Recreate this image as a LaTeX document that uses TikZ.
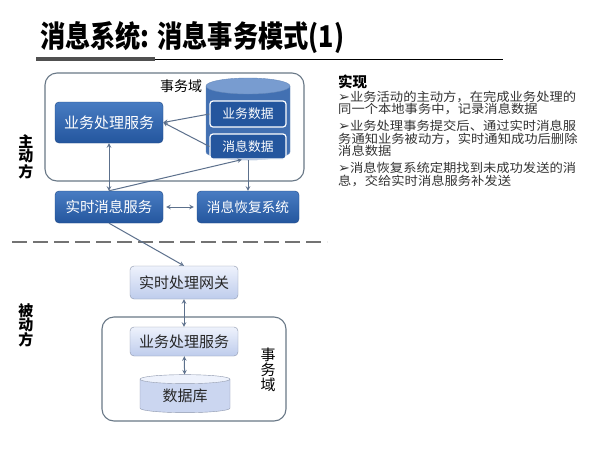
\documentclass[tikz,border=0pt]{standalone}
\usepackage{fontspec}
\setmainfont{Noto Sans CJK SC}
\newfontfamily\symfont{DejaVu Sans}
\usetikzlibrary{shapes.geometric}

\definecolor{boxblue}{RGB}{36,86,158}
\definecolor{boxtop}{RGB}{72,124,194}
\definecolor{dbbody}{RGB}{66,112,178}
\definecolor{dbend}{RGB}{120,156,208}
\definecolor{arrowgray}{RGB}{92,112,140}
\definecolor{framegray}{RGB}{105,120,135}
\definecolor{lightbot}{RGB}{190,204,236}
\definecolor{lighttop}{RGB}{238,242,252}
\definecolor{lightedge}{RGB}{140,150,172}
\definecolor{bargray}{RGB}{80,80,80}

\tikzset{
  svc/.style={draw=boxblue!85!black, rounded corners=4pt, top color=boxtop, bottom color=boxblue,
    text=white, inner sep=0pt, minimum width=108pt, minimum height=32pt, font=\fontsize{14.5}{14.5}\selectfont},
  inbox/.style={draw=white, line width=1.2pt, rounded corners=3pt, fill=boxblue, text=white,
    inner sep=0pt, minimum width=76pt, minimum height=25pt, font=\fontsize{12.8}{12.8}\selectfont},
  light/.style={draw=lightedge, rounded corners=4pt, top color=lighttop, bottom color=lightbot,
    text=black!85, inner sep=0pt, minimum width=108pt, minimum height=31pt, font=\fontsize{15}{15}\selectfont},
  dblow/.style={cylinder, shape border rotate=90, aspect=0.2, draw=lightedge, cylinder uses custom fill,
    cylinder body fill=lightbot!80!white, cylinder end fill=lighttop, inner sep=0pt,
    text=black!85, font=\fontsize{15}{15}\selectfont},
  domainbox/.style={draw=framegray, line width=1.1pt, rounded corners=12pt},
  arr/.style={draw=arrowgray, line width=1pt, >=stealth},
  side/.style={align=center, inner sep=0pt},
}
\newcommand{\bul}{{\symfont\fontsize{13}{12}\selectfont ➢}}

\begin{document}
\begin{tikzpicture}[x=1pt, y=-1pt]

  \useasboundingbox[fill=white] (0,0) rectangle (598,448);

  % 标题
  \node[anchor=base west, inner sep=0pt, xscale=0.84, font=\bfseries\fontsize{30}{30}\selectfont] (title) at (40,47) {消息系统: 消息事务模式(1)};
  \draw[line width=4pt, bargray] (36,59) -- (155,59);
  \draw[line width=0.8pt] (155,59) -- (503,59);

  % 主动方
  \draw[domainbox] (45,73) rectangle (304,181);
  \node[font=\fontsize{14}{14}\selectfont] (yu1) at (181,86) {事务域};

  % 数据库（圆柱）
  \node[inner sep=0pt, minimum width=84pt, minimum height=82pt] (db1) at (248,119) {};
  \path[fill=dbbody, draw=boxblue!70] (206,86) -- (206,152)
    arc[start angle=180, end angle=0, x radius=42, y radius=8] -- (290,86) -- cycle;
  \path[fill=dbend, draw=boxblue!70] (248,86) ellipse [x radius=42, y radius=8];

  \node[inbox, minimum height=26pt] (ywsj) at (248,114) {业务数据};
  \node[inbox] (xxsj) at (248,146.5) {消息数据};
  \node[svc, minimum height=41pt, font=\fontsize{15}{15}\selectfont] (yw1) at (109,122.5) {业务处理服务};
  \node[svc] (ss) at (109,207) {实时消息服务};
  \node[svc, minimum width=102pt, font=\fontsize{13.7}{13.7}\selectfont] (hf) at (248,207) {消息恢复系统};
  \node[side, font=\bfseries\fontsize{15}{14}\selectfont] (zd) at (26,157) {主\\动\\方};

  \draw[arr, ->] (ywsj.west) -- (yw1.east);
  \draw[arr, ->] (xxsj.west) -- (yw1.east);
  \draw[arr, <->] (yw1) -- (ss);
  \draw[arr, ->] (ss.north) -- (xxsj.-115);
  \draw[arr, ->] (db1.south) -- (hf.north);
  \draw[arr, <->, shorten <=3pt, shorten >=3pt] (ss) -- (hf);

  % 分隔线
  \draw[line width=2pt, dash pattern=on 15pt off 6pt, black!55] (12,242) -- (327,242);

  % 被动方
  \node[side, font=\bfseries\fontsize{15}{14.5}\selectfont] (bd) at (26,325) {被\\动\\方};
  \node[light, minimum height=33pt] (gw) at (184,282.5) {实时处理网关};
  \draw[domainbox] (102,317) rectangle (286,421);
  \node[light, minimum height=29pt] (yw2) at (184,341.5) {业务处理服务};
  \node[dblow, minimum width=90pt, minimum height=38pt] (db2) at (185,396) {数据库};
  \node[side, font=\fontsize{15}{15}\selectfont] (yu2) at (268,370) {事\\务\\域};

  \draw[arr, ->] (ss.south) -- (gw.north);
  \draw[arr, <->] (gw) -- (yw2);
  \draw[arr, <->] (yw2) -- (db2);

  % 实现说明
  \node[anchor=west, inner sep=0pt, font=\bfseries\fontsize{14.5}{14.5}\selectfont] (sx) at (338,82) {实现};
  \node[anchor=north west, align=left, inner sep=0pt, xscale=1.09, text=black!80, font=\fontsize{12.2}{12.6}\selectfont] (txt) at (338,90.5) {%
    \bul 业务活动的主动方，在完成业务处理的\\
    同一个本地事务中，记录消息数据\\[4.2pt]
    \bul 业务处理事务提交后、通过实时消息服\\
    务通知业务被动方，实时通知成功后删除\\
    消息数据\\[4.2pt]
    \bul 消息恢复系统定期找到未成功发送的消\\
    息，交给实时消息服务补发送};

\end{tikzpicture}
\end{document}
